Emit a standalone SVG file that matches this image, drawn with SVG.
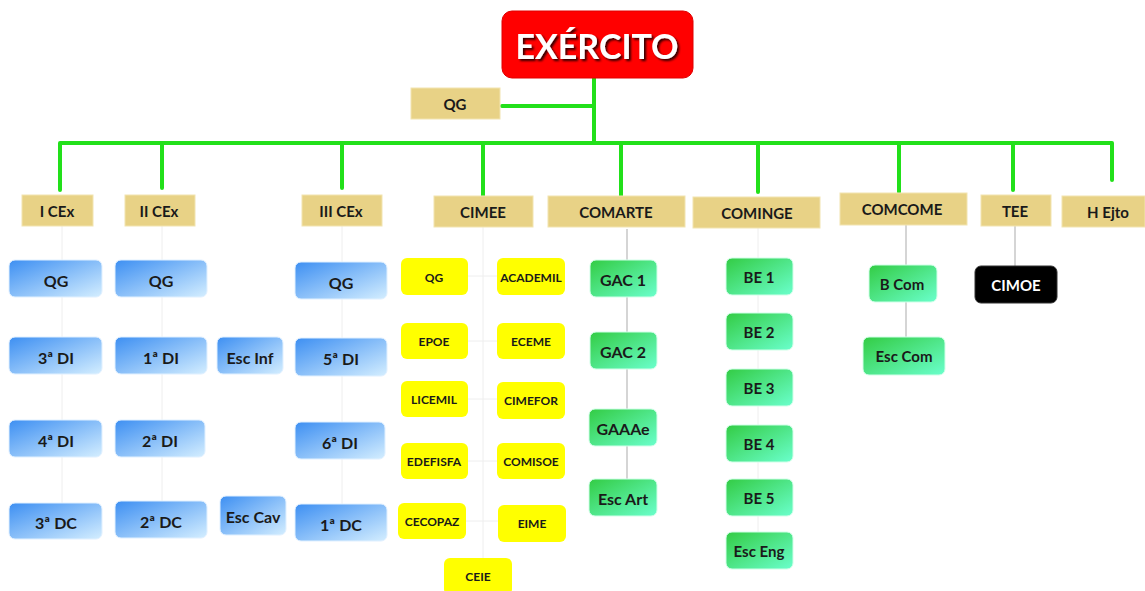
<svg xmlns="http://www.w3.org/2000/svg" width="1145" height="591" viewBox="0 0 1145 591">
<defs>
<linearGradient id="gBlue" x1="0" y1="0" x2="1" y2="1">
<stop offset="0" stop-color="#3d8ff2"/>
<stop offset="1" stop-color="#d4eeff"/>
</linearGradient>
<linearGradient id="gGreen" x1="0" y1="0" x2="1" y2="1">
<stop offset="0" stop-color="#33cc44"/>
<stop offset="1" stop-color="#6affcc"/>
</linearGradient>
<filter id="sh" x="-10%" y="-20%" width="130%" height="150%">
<feDropShadow dx="2" dy="2" stdDeviation="1" flood-color="#000" flood-opacity="0.8"/>
</filter>
</defs>
<style>
text{font-family:Lato,"Open Sans","Liberation Sans",sans-serif;font-weight:bold;text-anchor:middle;dominant-baseline:central;fill:#1a1a1a}
.tan{fill:#e8d286;stroke:#f2e4b0;stroke-width:1}
.blue{fill:url(#gBlue);stroke:#e0f0ff;stroke-width:1}
.green{fill:url(#gGreen);stroke:#d0ffe8;stroke-width:1}
.yel{fill:#ffff00}
.t15{font-size:15px}
.t16{font-size:16px}
.t12{font-size:12px}
.g{fill:none;stroke:#22e01a;stroke-width:4;stroke-linecap:round;stroke-linejoin:round}
.f{fill:none;stroke:#c8c8c8;stroke-width:1.5}
.ff{fill:none;stroke:#eeeeee;stroke-width:1}
</style>
<rect width="1145" height="591" fill="#ffffff"/>
<g id="connectors">
<path class="g" d="M594 78 V143 M502 106 H594 M60 190 V143 H1112 V180 M162 143 V188 M342 143 V188 M483 143 V196 M621 143 V196 M758 143 V192 M899 143 V192 M1013 143 V190"/>
<path class="f" d="M627 229 V260 M627 297 V332 M627 369 V409 M627 446 V479 M906 225 V265 M906 302 V337 M1015 226 V266"/>
<path class="ff" d="M62 226 V503 M162 226 V501 M342 226 V504 M483 227 V558 M468 276 H497 M468 341 H497 M468 399 H497 M468 461 H497 M466 521 H498 M758 228 V532"/>
</g>
<g id="exercito">
<rect x="502" y="11" width="191" height="67" rx="10" fill="#ff0000" stroke="#e00000"/>
<text x="597" y="45" font-size="34" fill="#ffffff" style="fill:#ffffff" filter="url(#sh)">EXÉRCITO</text>
</g>
<g id="qg-top"><rect class="tan" x="411" y="88" width="89" height="31"/><text class="t15" x="455" y="104">QG</text></g>
<g id="icex"><rect class="tan" x="22" y="195" width="71" height="31"/><text class="t15" x="57" y="211">I CEx</text></g>
<g id="iicex"><rect class="tan" x="125" y="195" width="70" height="31"/><text class="t15" x="159" y="211">II CEx</text></g>
<g id="iiicex"><rect class="tan" x="302" y="195" width="80" height="31"/><text class="t15" x="341" y="211">III CEx</text></g>
<g id="cimee"><rect class="tan" x="434" y="196" width="99" height="31"/><text class="t15" x="483" y="212">CIMEE</text></g>
<g id="comarte"><rect class="tan" x="548" y="196" width="137" height="31"/><text class="t15" x="616" y="212">COMARTE</text></g>
<g id="cominge"><rect class="tan" x="693" y="197" width="127" height="31"/><text class="t15" x="757" y="213">COMINGE</text></g>
<g id="comcome"><rect class="tan" x="840" y="193" width="127" height="32"/><text class="t15" x="902" y="209">COMCOME</text></g>
<g id="tee"><rect class="tan" x="981" y="195" width="70" height="31"/><text class="t15" x="1015" y="211">TEE</text></g>
<g id="hejto"><rect class="tan" x="1062" y="196" width="83" height="31"/><text class="t15" x="1108" y="212">H Ejto</text></g>

<g id="i-qg"><rect class="blue" x="9" y="260" width="93" height="37" rx="6"/><text class="t16" x="56" y="280">QG</text></g>
<g id="i-3di"><rect class="blue" x="9" y="337" width="93" height="37" rx="6"/><text class="t16" x="56" y="357">3ª DI</text></g>
<g id="i-4di"><rect class="blue" x="9" y="420" width="93" height="37" rx="6"/><text class="t16" x="56" y="440">4ª DI</text></g>
<g id="i-3dc"><rect class="blue" x="9" y="503" width="93" height="36" rx="6"/><text class="t16" x="56" y="522">3ª DC</text></g>

<g id="ii-qg"><rect class="blue" x="115" y="260" width="92" height="37" rx="6"/><text class="t16" x="161" y="280">QG</text></g>
<g id="ii-1di"><rect class="blue" x="115" y="337" width="92" height="37" rx="6"/><text class="t16" x="161" y="357">1ª DI</text></g>
<g id="ii-2di"><rect class="blue" x="115" y="420" width="90" height="37" rx="6"/><text class="t16" x="160" y="440">2ª DI</text></g>
<g id="ii-2dc"><rect class="blue" x="115" y="501" width="92" height="37" rx="6"/><text class="t16" x="161" y="521">2ª DC</text></g>
<g id="escinf"><rect class="blue" x="217" y="337" width="66" height="37" rx="6"/><text class="t16" x="250" y="357">Esc Inf</text></g>
<g id="esccav"><rect class="blue" x="220" y="496" width="66" height="39" rx="6"/><text class="t16" x="253" y="516">Esc Cav</text></g>

<g id="iii-qg"><rect class="blue" x="295" y="262" width="92" height="37" rx="6"/><text class="t16" x="341" y="282">QG</text></g>
<g id="iii-5di"><rect class="blue" x="295" y="338" width="92" height="38" rx="6"/><text class="t16" x="341" y="358">5ª DI</text></g>
<g id="iii-6di"><rect class="blue" x="295" y="422" width="90" height="37" rx="6"/><text class="t16" x="340" y="442">6ª DI</text></g>
<g id="iii-1dc"><rect class="blue" x="295" y="504" width="92" height="37" rx="6"/><text class="t16" x="341" y="524" font-size="14">1ª DC</text></g>

<g id="c-qg"><rect class="yel" x="401" y="258" width="67" height="37" rx="6"/><text class="t12" x="434" y="277">QG</text></g>
<g id="c-academil"><rect class="yel" x="497" y="258" width="68" height="37" rx="6"/><text class="t12" x="531" y="277">ACADEMIL</text></g>
<g id="c-epoe"><rect class="yel" x="401" y="323" width="67" height="36" rx="6"/><text class="t12" x="434" y="341">EPOE</text></g>
<g id="c-eceme"><rect class="yel" x="497" y="323" width="68" height="36" rx="6"/><text class="t12" x="531" y="341">ECEME</text></g>
<g id="c-licemil"><rect class="yel" x="401" y="381" width="67" height="36" rx="6"/><text class="t12" x="434" y="399">LICEMIL</text></g>
<g id="c-cimefor"><rect class="yel" x="497" y="382" width="68" height="37" rx="6"/><text class="t12" x="531" y="400">CIMEFOR</text></g>
<g id="c-edefisfa"><rect class="yel" x="401" y="443" width="67" height="36" rx="6"/><text class="t12" x="434" y="461">EDEFISFA</text></g>
<g id="c-comisoe"><rect class="yel" x="497" y="443" width="68" height="36" rx="6"/><text class="t12" x="531" y="461">COMISOE</text></g>
<g id="c-cecopaz"><rect class="yel" x="398" y="503" width="68" height="36" rx="6"/><text class="t12" x="432" y="521">CECOPAZ</text></g>
<g id="c-eime"><rect class="yel" x="498" y="505" width="68" height="37" rx="6"/><text class="t12" x="532" y="523">EIME</text></g>
<g id="c-ceie"><rect class="yel" x="444" y="558" width="68" height="37" rx="6"/><text class="t12" x="478" y="576">CEIE</text></g>

<g id="gac1"><rect class="green" x="590" y="260" width="67" height="37" rx="6"/><text class="t16" x="623" y="279">GAC 1</text></g>
<g id="gac2"><rect class="green" x="590" y="332" width="67" height="37" rx="6"/><text class="t16" x="623" y="351">GAC 2</text></g>
<g id="gaaae"><rect class="green" x="589" y="409" width="68" height="37" rx="6"/><text class="t16" x="623" y="428">GAAAe</text></g>
<g id="escart"><rect class="green" x="589" y="479" width="68" height="37" rx="6"/><text class="t16" x="623" y="498">Esc Art</text></g>

<g id="be1"><rect class="green" x="726" y="258" width="67" height="37" rx="6"/><text class="t15" x="759" y="277">BE 1</text></g>
<g id="be2"><rect class="green" x="726" y="313" width="67" height="37" rx="6"/><text class="t15" x="759" y="332">BE 2</text></g>
<g id="be3"><rect class="green" x="726" y="369" width="67" height="37" rx="6"/><text class="t15" x="759" y="388">BE 3</text></g>
<g id="be4"><rect class="green" x="726" y="425" width="67" height="37" rx="6"/><text class="t15" x="759" y="444">BE 4</text></g>
<g id="be5"><rect class="green" x="726" y="479" width="67" height="37" rx="6"/><text class="t15" x="759" y="498">BE 5</text></g>
<g id="esceng"><rect class="green" x="726" y="532" width="67" height="37" rx="6"/><text class="t15" x="759" y="551">Esc Eng</text></g>

<g id="bcom"><rect class="green" x="869" y="265" width="68" height="37" rx="6"/><text class="t15" x="902" y="284">B Com</text></g>
<g id="esccom"><rect class="green" x="863" y="337" width="82" height="38" rx="6"/><text class="t15" x="904" y="356">Esc Com</text></g>
<g id="cimoe"><rect x="975" y="266" width="82" height="37" rx="6" fill="#000000" stroke="#333"/><text class="t15" x="1016" y="285" style="fill:#ffffff">CIMOE</text></g>
</svg>
